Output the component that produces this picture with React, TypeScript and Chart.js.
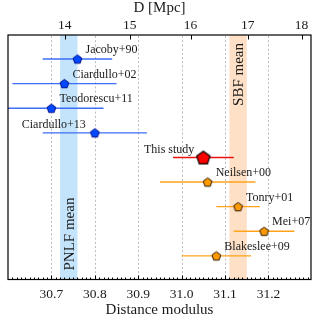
import React, { useEffect, useRef } from 'react';
import { Chart, registerables } from 'chart.js';

Chart.register(...registerables);

// ---- data ----
const pnlfNames = ['Jacoby+90', 'Ciardullo+02', 'Teodorescu+11', 'Ciardullo+13'];
const pnlfMu = [30.76, 30.73, 30.70, 30.80];
const pnlfErr = [0.08, 0.12, 0.12, 0.12];

const studyNames = ['This study'];
const studyMu = [31.05];
const studyErr = [0.07];

const sbfNames = ['Neilsen+00', 'Tonry+01', 'Mei+07', 'Blakeslee+09'];
const sbfMu = [31.06, 31.13, 31.19, 31.08];
const sbfErr = [0.11, 0.05, 0.07, 0.08];

const pnlfMean = [30.74];
const pnlfMeanErr = [0.02];
const sbfMean = [31.13];
const sbfMeanErr = [0.02];

const muTicks = [30.7, 30.8, 30.9, 31.0, 31.1, 31.2];
const distTicksMpc = [14, 15, 16, 17, 18];

// labels placed to the left of the marker
const leftLabels = ['Ciardullo+13', 'This study'];

const SERIF = '"Liberation Serif", "Times New Roman", serif';
const X_MIN = 30.6;
const X_MAX = 31.298;

const muFromMpc = (d: number) => 5 * Math.log10(d) + 25;

function pentagon(r: number, fill: string, stroke: string, lw: number) {
  const size = Math.ceil(2 * r + lw + 2);
  const c = document.createElement('canvas');
  c.width = size;
  c.height = size;
  const g = c.getContext('2d')!;
  const cx = size / 2;
  const cy = size / 2 + r * 0.1;
  g.beginPath();
  for (let i = 0; i < 5; i++) {
    const a = -Math.PI / 2 + (i * 2 * Math.PI) / 5;
    const px = cx + r * Math.cos(a);
    const py = cy + r * Math.sin(a);
    if (i === 0) g.moveTo(px, py);
    else g.lineTo(px, py);
  }
  g.closePath();
  g.fillStyle = fill;
  g.fill();
  g.lineWidth = lw;
  g.strokeStyle = stroke;
  g.lineJoin = 'miter';
  g.stroke();
  return c;
}

type Group = { names: string[]; mu: number[]; err: number[]; start: number; line: string };

const groups: Group[] = [
  { names: pnlfNames, mu: pnlfMu, err: pnlfErr, start: 0, line: '#3d6ef5' },
  { names: studyNames, mu: studyMu, err: studyErr, start: pnlfNames.length, line: '#ee1111' },
  { names: sbfNames, mu: sbfMu, err: sbfErr, start: pnlfNames.length + studyNames.length, line: '#ffa31a' },
];

const overlay = {
  id: 'overlay',
  beforeDatasetsDraw(chart: any) {
    const { ctx, chartArea: a, scales } = chart;
    const x = scales.x;
    const y = scales.y;
    ctx.save();

    // dotted grid lines at the bottom-axis major ticks
    ctx.strokeStyle = '#bcbcbc';
    ctx.lineWidth = 1;
    ctx.setLineDash([2, 2.2]);
    for (const v of muTicks) {
      const px = Math.round(x.getPixelForValue(v)) + 0.5;
      ctx.beginPath();
      ctx.moveTo(px, a.top + 1);
      ctx.lineTo(px, a.bottom - 1);
      ctx.stroke();
    }
    ctx.setLineDash([]);

    ctx.beginPath();
    ctx.rect(a.left, a.top, a.right - a.left, a.bottom - a.top);
    ctx.clip();

    // bands
    const bands = [
      { m: pnlfMean[0], e: pnlfMeanErr[0], c: '#c4e4fb', t: 'PNLF mean', pos: 'bottom' },
      { m: sbfMean[0], e: sbfMeanErr[0], c: '#fde0c6', t: 'SBF mean', pos: 'top' },
    ];
    for (const b of bands) {
      const x0 = x.getPixelForValue(b.m - b.e);
      const x1 = x.getPixelForValue(b.m + b.e);
      ctx.fillStyle = b.c;
      ctx.fillRect(x0, a.top, x1 - x0, a.bottom - a.top);
      ctx.save();
      ctx.translate((x0 + x1) / 2, b.pos === 'bottom' ? a.bottom - 9 : a.top + 8);
      ctx.rotate(-Math.PI / 2);
      ctx.font = `15px ${SERIF}`;
      ctx.fillStyle = '#1a1a1a';
      ctx.textBaseline = 'middle';
      ctx.textAlign = b.pos === 'bottom' ? 'left' : 'right';
      ctx.fillText(b.t, 0, 1);
      ctx.restore();
    }

    // error bars
    for (const g of groups) {
      ctx.strokeStyle = g.line;
      ctx.lineWidth = 1.4;
      g.mu.forEach((m, i) => {
        const py = y.getPixelForValue(g.start + i);
        ctx.beginPath();
        ctx.moveTo(x.getPixelForValue(m - g.err[i]), py);
        ctx.lineTo(x.getPixelForValue(m + g.err[i]), py);
        ctx.stroke();
      });
    }
    ctx.restore();
  },
  afterDatasetsDraw(chart: any) {
    const { ctx, chartArea: a, scales } = chart;
    const x = scales.x;
    const y = scales.y;
    ctx.save();
    // labels
    ctx.font = `12px ${SERIF}`;
    ctx.fillStyle = '#1a1a1a';
    ctx.textBaseline = 'middle';
    for (const g of groups) {
      g.names.forEach((n, i) => {
        const px = x.getPixelForValue(g.mu[i]);
        const py = y.getPixelForValue(g.start + i);
        if (leftLabels.includes(n)) {
          ctx.textAlign = 'right';
          ctx.fillText(n, px - 9, py - 8);
        } else {
          ctx.textAlign = 'left';
          ctx.fillText(n, px + 8, py - 9);
        }
      });
    }
    // frame
    ctx.strokeStyle = '#000';
    ctx.lineWidth = 1.2;
    ctx.strokeRect(a.left, a.top, a.right - a.left, a.bottom - a.top);
    // bottom ticks (inward)
    ctx.lineWidth = 1;
    ctx.beginPath();
    for (let k = 1; k < 70; k++) {
      const v = X_MIN + k * 0.01;
      if (v > X_MAX) break;
      const px = Math.round(x.getPixelForValue(v)) + 0.5;
      const major = k % 10 === 0;
      ctx.moveTo(px, a.bottom);
      ctx.lineTo(px, a.bottom - (major ? 4 : 2));
    }
    // top ticks (inward)
    for (const d of distTicksMpc) {
      const px = Math.round(x.getPixelForValue(muFromMpc(d))) + 0.5;
      ctx.moveTo(px, a.top);
      ctx.lineTo(px, a.top + 4.5);
    }
    ctx.stroke();
    ctx.restore();
  },
};

export default function App() {
  const ref = useRef<HTMLCanvasElement>(null);

  useEffect(() => {
    const canvas = ref.current!;
    const blue = pentagon(4.6, '#0048ff', '#00108a', 1);
    const red = pentagon(7, '#ff0000', '#000000', 1.2);
    const orange = pentagon(4.6, '#ff9a00', '#2a1500', 1);

    const mk = (g: Group) => g.mu.map((m, i) => ({ x: m, y: g.start + i }));

    const chart = new Chart(canvas, {
      type: 'scatter',
      data: {
        datasets: [
          { label: 'PNLF', data: mk(groups[0]), pointStyle: blue as any, pointRadius: 5 },
          { label: 'This study', data: mk(groups[1]), pointStyle: red as any, pointRadius: 7 },
          { label: 'SBF', data: mk(groups[2]), pointStyle: orange as any, pointRadius: 5 },
        ],
      },
      options: {
        animation: false,
        responsive: false,
        devicePixelRatio: 1,
        layout: { padding: { left: 3.3, right: 3.3, top: 0, bottom: 0 } },
        plugins: { legend: { display: false }, tooltip: { enabled: false } },
        scales: {
          x: {
            type: 'linear',
            position: 'bottom',
            min: X_MIN,
            max: X_MAX,
            afterBuildTicks: (s: any) => {
              s.ticks = muTicks.map((v) => ({ value: v }));
            },
            afterFit: (s: any) => {
              s.height = 39.5;
            },
            ticks: {
              callback: (v: any) => Number(v).toFixed(1),
              font: { family: SERIF, size: 13.5 },
              color: '#1a1a1a',
              padding: 7,
              maxRotation: 0,
              autoSkip: false,
            },
            grid: { display: false, drawTicks: false },
            border: { display: false },
            title: {
              display: true,
              text: 'Distance modulus',
              font: { family: SERIF, size: 15, lineHeight: 1 },
              color: '#1a1a1a',
              padding: { top: 0, bottom: 1.5 },
            },
          },
          x2: {
            type: 'linear',
            position: 'top',
            min: X_MIN,
            max: X_MAX,
            afterBuildTicks: (s: any) => {
              s.ticks = distTicksMpc.map((d) => ({ value: muFromMpc(d) }));
            },
            afterFit: (s: any) => {
              s.height = 35;
            },
            ticks: {
              callback: (_v: any, i: number) => String(distTicksMpc[i]),
              font: { family: SERIF, size: 13.5 },
              color: '#1a1a1a',
              padding: 1.9,
              maxRotation: 0,
              autoSkip: false,
            },
            grid: { display: false, drawTicks: false },
            border: { display: false },
            title: {
              display: true,
              text: 'D [Mpc]',
              font: { family: SERIF, size: 15, lineHeight: 1 },
              color: '#1a1a1a',
              padding: { top: 0.5, bottom: 0 },
            },
          },
          y: {
            type: 'linear',
            display: false,
            reverse: true,
            min: -0.976,
            max: 8.96,
          },
        },
      },
      plugins: [overlay],
    });
    return () => chart.destroy();
  }, []);

  return (
    <div style={{ position: 'absolute', left: 0, top: 0, width: 319, height: 319, background: '#fff' }}>
      <canvas ref={ref} width={319} height={319} style={{ display: 'block' }} />
    </div>
  );
}
